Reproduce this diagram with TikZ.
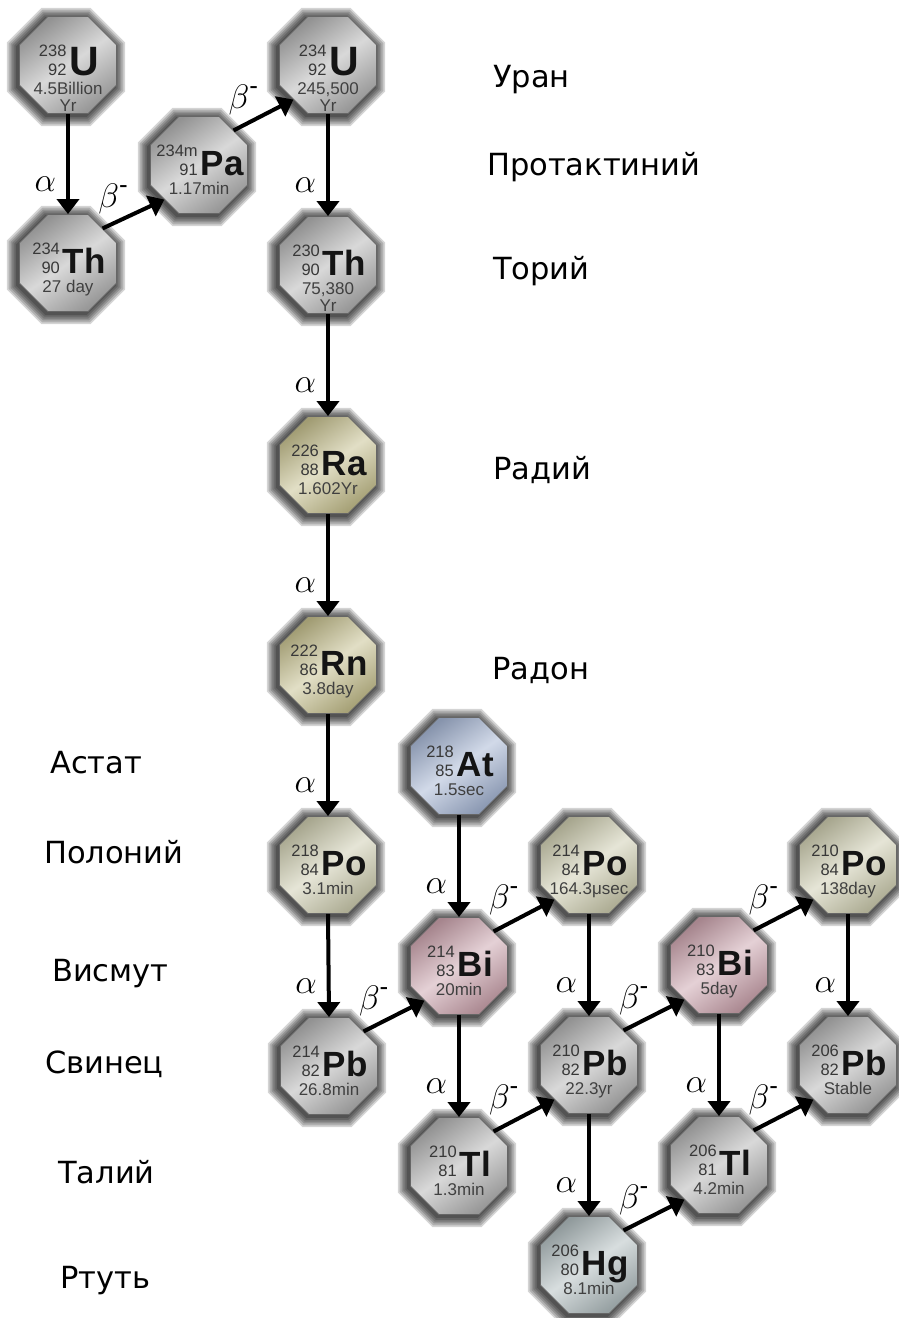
\RequirePackage{fix-cm}
\documentclass[tikz,border=0pt]{standalone}
\usepackage{fontspec}
\setmainfont{Liberation Sans}
\newfontfamily\labfont{DejaVu Sans}
\usetikzlibrary{shapes.geometric,arrows.meta,calc}
\pgfdeclarelayer{background}
\pgfsetlayers{background,main}
\definecolor{cgray}{RGB}{178,178,178}
\definecolor{cra}{RGB}{196,190,140}
\definecolor{cpo}{RGB}{204,203,174}
\definecolor{cat}{RGB}{164,180,210}
\definecolor{cbi}{RGB}{202,162,172}
\definecolor{chg}{RGB}{176,188,190}
\colorlet{mc}{cgray}
\tikzset{
  octa/.style={regular polygon, regular polygon sides=8, minimum size=105pt,
    inner sep=0pt, draw=black!60, line width=0.8pt,
    top color=mc!82!black, bottom color=mc!85!black, middle color=mc!50!white,
    shading angle=35},
  oshadow/.style={fill=black, fill opacity=0.17},
  isotop/.style={inner sep=0pt, text=black!78, font=\fontsize{16.5}{19}\selectfont},
  hlt/.style={inner sep=0pt, text=black!75, font=\fontsize{17}{17}\selectfont},
  arr/.style={line width=4pt, -{Triangle[length=15pt,width=22pt]}},
  vshade/.style={draw=black!12, line width=16pt, transform canvas={xshift=-6pt}},
  vshadeb/.style={draw=black!22, line width=7pt, transform canvas={xshift=-5pt}},
  dshade/.style={draw=black!12, line width=16pt, transform canvas={xshift=-3pt,yshift=5pt}},
  dshadeb/.style={draw=black!22, line width=7pt, transform canvas={xshift=-2.5pt,yshift=4.5pt}},
  lbl/.style={inner sep=0pt, font=\fontsize{34}{34}\selectfont},
  elname/.style={anchor=base west, inner sep=0pt, font=\labfont\fontsize{30.5}{30}\selectfont}
}
\newcommand\symsz{\fontsize{35}{35}\selectfont\bfseries\color{black!92}}
\newcommand\iso[8]{%
  \colorlet{mc}{#3}%
  \coordinate (#1-c) at (#2);
  \foreach \rr in {64,62,60,58,56,54}{%
    \fill[oshadow] ($(#1-c)+(-2,2)$) +(22.5:\rr pt) -- +(67.5:\rr pt) -- +(112.5:\rr pt)
      -- +(157.5:\rr pt) -- +(202.5:\rr pt) -- +(247.5:\rr pt) -- +(292.5:\rr pt)
      -- +(337.5:\rr pt) -- cycle;}
  \node[octa] (#1) at (#1-c) {};
  \node[isotop, anchor=base] (#1-t) at ($(#1.center)+(1,10)$)
    {\begin{tabular}[b]{@{}r@{}}#4\\#5\end{tabular}\hspace{3pt}{\symsz #6}};
  \node[hlt, anchor=base] (#1-h) at ($(#1.center)+(0,29)$) {#7};
  \if\relax\detokenize{#8}\relax\else
  \node[hlt, anchor=base] (#1-y) at ($(#1.center)+(0,46)$) {#8};
  \fi
}
\newcommand\aarr[2]{%
  \begin{pgfonlayer}{background}\draw[vshade] (#1.south) -- (#2.north);
  \draw[vshadeb] (#1.south) -- (#2.north);\end{pgfonlayer}
  \draw[arr] (#1.south) -- node[pos=0.7, anchor=east, xshift=-10pt, lbl] (#1-#2-l) {$\alpha$} (#2.north);
}
\newcommand\barr[2]{%
  \begin{pgfonlayer}{background}\draw[dshade] (#1.45) -- (#2.225);
  \draw[dshadeb] (#1.45) -- (#2.225);\end{pgfonlayer}
  \draw[arr] (#1.45) -- node[pos=0.44, anchor=south east, lbl] (#1-#2-l) {$\beta$\raisebox{14pt}{\fontsize{26}{26}\selectfont-}} (#2.225);
}
\begin{document}
\begin{tikzpicture}[x=1pt,y=-1pt]
\path[use as bounding box, fill=white] (0,0) rectangle (899,1318);
% isotopes
\iso{U238}{68,65}{cgray}{238}{92}{\fontsize{41}{41}\selectfont U}{4.5Billion}{Yr}
\iso{Th234}{68,263}{cgray}{234}{90}{Th}{27 day}{}
\iso{Pa234}{199,165}{cgray}{234m}{91}{Pa}{1.17min}{}
\iso{U234}{328,65}{cgray}{234}{92}{\fontsize{41}{41}\selectfont U}{245,500}{Yr}
\iso{Th230}{328,265}{cgray}{230}{90}{Th}{75,380}{Yr}
\iso{Ra226}{328,465}{cra}{226}{88}{Ra}{1.602Yr}{}
\iso{Rn222}{328,665}{cra}{222}{86}{Rn}{3.8day}{}
\iso{Po218}{328,865}{cpo}{218}{84}{Po}{3.1min}{}
\iso{Pb214}{329,1066}{cgray}{214}{82}{Pb}{26.8min}{}
\iso{At218}{459,766}{cat}{218}{85}{At}{1.5sec}{}
\iso{Bi214}{459,966}{cbi}{214}{83}{Bi}{20min}{}
\iso{Tl210}{459,1166}{cgray}{210}{81}{Tl}{1.3min}{}
\iso{Po214}{589,865}{cpo}{214}{84}{Po}{164.3μsec}{}
\iso{Pb210}{589,1065}{cgray}{210}{82}{Pb}{22.3yr}{}
\iso{Hg206}{589,1265}{chg}{206}{80}{Hg}{8.1min}{}
\iso{Bi210}{719,965}{cbi}{210}{83}{Bi}{5day}{}
\iso{Tl206}{719,1165}{cgray}{206}{81}{Tl}{4.2min}{}
\iso{Po210}{848,865}{cpo}{210}{84}{Po}{138day}{}
\iso{Pb206}{848,1065}{cgray}{206}{82}{Pb}{Stable}{}
% decays
\aarr{U238}{Th234}
\barr{Th234}{Pa234}
\barr{Pa234}{U234}
\aarr{U234}{Th230}
\aarr{Th230}{Ra226}
\aarr{Ra226}{Rn222}
\aarr{Rn222}{Po218}
\aarr{Po218}{Pb214}
\barr{Pb214}{Bi214}
\aarr{At218}{Bi214}
\barr{Bi214}{Po214}
\aarr{Bi214}{Tl210}
\barr{Tl210}{Pb210}
\aarr{Po214}{Pb210}
\aarr{Pb210}{Hg206}
\barr{Pb210}{Bi210}
\barr{Hg206}{Tl206}
\aarr{Bi210}{Tl206}
\barr{Bi210}{Po210}
\aarr{Po210}{Pb206}
\barr{Tl206}{Pb206}
% element names
\node[elname] (nU) at (493,87) {Уран};
\node[elname] (nPa) at (487,175) {Протактиний};
\node[elname] (nTh) at (493,279) {Торий};
\node[elname] (nRa) at (493,479) {Радий};
\node[elname] (nRn) at (492,679) {Радон};
\node[elname] (nAt) at (50,773) {Астат};
\node[elname] (nPo) at (44,863) {Полоний};
\node[elname] (nBi) at (52,981) {Висмут};
\node[elname] (nPb) at (45,1073) {Свинец};
\node[elname] (nTl) at (58,1183) {Талий};
\node[elname] (nHg) at (60,1288) {Ртуть};
\end{tikzpicture}
\end{document}
